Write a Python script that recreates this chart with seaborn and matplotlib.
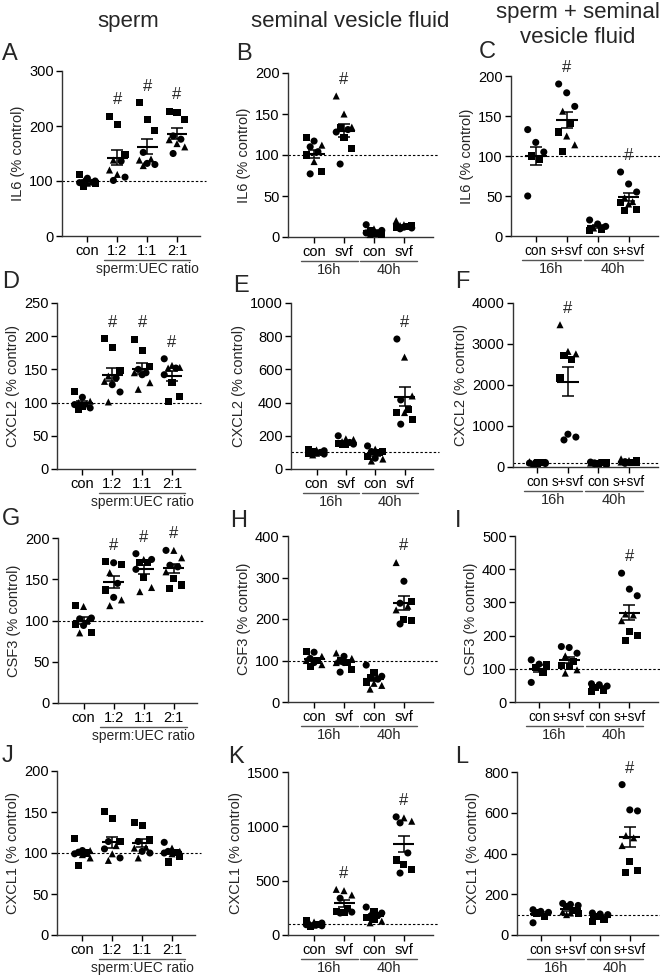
import numpy as np
import pandas as pd
import matplotlib
matplotlib.use('Agg')
import matplotlib.pyplot as plt
import seaborn as sns
from matplotlib.transforms import blended_transform_factory as btf

sns.set_style('ticks')
plt.rcParams['font.family'] = ['Liberation Sans', 'DejaVu Sans']

# ---------------- data ----------------
cats_ratio = ['con', '1:2', '1:1', '2:1']
cats_svf = ['con', 'svf', 'con', 'svf']
cats_ssvf = ['con', 's+svf', 'con', 's+svf']
ratio_label = 'sperm:UEC ratio'
time_labels = ['16h', '40h']
col_titles = ['sperm', 'seminal vesicle fluid', 'sperm + seminal', 'vesicle fluid']

# Panel A: IL6, sperm
A_sq = [[112, 95, 90], [218, 203, 148], [242, 211, 191], [225, 227, 212]]
A_ci = [[105, 100, 97], [136, 107, 101], [152, 132, 130], [182, 176, 150]]
A_tr = [[100, 98, 96], [138, 120, 112], [140, 138, 128], [175, 168, 162]]
# Panel B: IL6, svf
B_sq = [[121, 100, 80], [133, 121, 108], [4, 8, 3], [12, 13, 14]]
B_ci = [[117, 110, 104, 77], [131, 128, 89], [15, 8, 5], [10, 11, 12]]
B_tr = [[112, 92], [172, 150, 134], [3, 5, 10], [20, 15, 14]]
# Panel C: IL6, sperm + svf
C_sq = [[100, 96], [141, 130, 106], [8, 7], [42, 33, 32]]
C_ci = [[133, 117, 105, 50], [190, 179, 162], [20, 15, 12], [80, 65, 55]]
C_tr = [[], [156, 125, 114], [10], [48, 43, 40]]
# Panel D: CXCL2, sperm
D_sq = [[117, 94, 90], [196, 183, 148], [195, 179, 155], [130, 109, 101]]
D_ci = [[108, 97, 92], [137, 127, 116], [150, 145, 142], [166, 152, 142]]
D_tr = [[102, 100, 98], [140, 132, 101], [145, 130, 120], [156, 153, 152]]
# Panel E: CXCL2, svf
E_sq = [[120, 105, 95], [155, 150, 148], [105, 100, 75], [356, 342, 300]]
E_ci = [[110, 100, 90], [200, 160, 150], [139, 105, 65], [783, 416, 270]]
E_tr = [[115, 95, 85], [182, 178, 165], [120, 60, 48], [674, 440, 340]]
# Panel F: CXCL2, sperm + svf
F_sq = [[120, 100, 90], [2720, 2620, 2170], [110, 100, 90], [150, 120, 100]]
F_ci = [[110, 95, 85], [800, 730, 660], [120, 100, 80], [130, 110, 90]]
F_tr = [[130, 100, 80], [3470, 2820, 2760], [115, 95, 85], [200, 160, 120]]
# Panel G: CSF3, sperm
G_sq = [[118, 95, 86], [171, 168, 137], [170, 170, 152], [151, 143, 139]]
G_ci = [[103, 102, 94], [170, 145, 128], [181, 174, 162], [185, 167, 165]]
G_tr = [[117, 100, 85], [158, 125, 118], [174, 140, 135], [185, 176, 159]]
# Panel H: CSF3, svf
H_sq = [[122, 100, 85], [100, 95, 78], [72, 58, 48], [243, 199, 196]]
H_ci = [[120, 105, 95], [110, 95, 72], [89, 62, 55], [291, 238, 188]]
H_tr = [[110, 100, 90], [118, 105, 95], [45, 40, 31], [336, 231, 222]]
# Panel I: CSF3, sperm + svf
I_sq = [[112, 104, 89], [122, 110, 107], [45, 36, 31], [212, 200, 184]]
I_ci = [[127, 114, 59], [167, 164, 147], [55, 52, 48], [388, 340, 320]]
I_tr = [[], [139, 97, 87], [], [265, 262, 245]]
# Panel J: CXCL1, sperm
J_sq = [[118, 100, 85], [151, 142, 114], [137, 133, 116], [101, 96, 89]]
J_ci = [[103, 101, 99], [114, 105, 94], [114, 102, 100], [113, 102, 100]]
J_tr = [[103, 98, 94], [109, 99, 91], [107, 106, 94], [106, 102, 99]]
# Panel K: CXCL1, svf
K_sq = [[130, 100, 80], [247, 217, 211], [217, 163, 142], [690, 649, 604]]
K_ci = [[110, 95, 85], [338, 211, 202], [257, 202, 180], [1087, 1032, 755, 570]]
K_tr = [[120, 100, 90], [420, 408, 368], [187, 127, 112], [1078, 1047]]
# Panel L: CXCL1, sperm + svf
L_sq = [[108, 92], [141, 120, 105], [90, 76, 66], [359, 315, 305]]
L_ci = [[124, 116, 111, 60], [155, 150, 145], [108, 103, 100], [738, 614, 609]]
L_tr = [[], [113, 108, 100], [], [488, 477, 439]]

ylabels = ['IL6 (% control)', 'CXCL2 (% control)', 'CSF3 (% control)', 'CXCL1 (% control)']
yticks_all = {
    'A': [0, 100, 200, 300], 'B': [0, 50, 100, 150, 200], 'C': [0, 50, 100, 150, 200],
    'D': [0, 50, 100, 150, 200, 250], 'E': [0, 200, 400, 600, 800, 1000],
    'F': [0, 1000, 2000, 3000, 4000], 'G': [0, 50, 100, 150, 200],
    'H': [0, 100, 200, 300, 400], 'I': [0, 100, 200, 300, 400, 500],
    'J': [0, 50, 100, 150, 200], 'K': [0, 500, 1000, 1500], 'L': [0, 200, 400, 600, 800],
}
hash_groups = {'A': [1, 2, 3], 'B': [1], 'C': [1, 3], 'D': [1, 2, 3], 'E': [3], 'F': [1],
               'G': [1, 2, 3], 'H': [3], 'I': [3], 'J': [], 'K': [1, 3], 'L': [3]}

panels = {
    'A': (A_sq, A_ci, A_tr), 'B': (B_sq, B_ci, B_tr), 'C': (C_sq, C_ci, C_tr),
    'D': (D_sq, D_ci, D_tr), 'E': (E_sq, E_ci, E_tr), 'F': (F_sq, F_ci, F_tr),
    'G': (G_sq, G_ci, G_tr), 'H': (H_sq, H_ci, H_tr), 'I': (I_sq, I_ci, I_tr),
    'J': (J_sq, J_ci, J_tr), 'K': (K_sq, K_ci, K_tr), 'L': (L_sq, L_ci, L_tr),
}

# ---------------- layout (pixels) ----------------
W, H = 660, 976
boxes = {
    'A': (62, 200, 71, 236), 'B': (288, 433, 73, 237), 'C': (511, 658, 76, 236),
    'D': (57, 195, 303, 469), 'E': (291, 433, 303, 469), 'F': (513, 658, 303, 467),
    'G': (58, 197, 538, 703), 'H': (288, 433, 536, 702), 'I': (515, 658, 536, 702),
    'J': (57, 195, 771, 935), 'K': (288, 433, 772, 935), 'L': (517, 658, 772, 935),
}
letters_pos = {
    'A': (2, 60), 'B': (236, 60), 'C': (479, 58),
    'D': (2, 288), 'E': (233, 292), 'F': (455, 288),
    'G': (2, 525), 'H': (230, 527), 'I': (455, 527),
    'J': (2, 762), 'K': (228, 763), 'L': (455, 763),
}
xlims = [(-0.85, 3.77), (-0.87, 3.97), (-0.8, 3.95)]
xtick_sizes = [10.5, 10.5, 9.8]


def build(sq, ci, tr):
    rows = []
    for shape, lists in (('sq', sq), ('ci', ci), ('tr', tr)):
        for g, vals in enumerate(lists):
            for v in vals:
                rows.append((g, v, shape))
    df = pd.DataFrame(rows, columns=['group', 'value', 'shape'])
    offs = [-0.26, 0.0, 0.26, -0.13, 0.13]
    df['x'] = df['group'].astype(float)
    for g, sub in df.groupby('group'):
        order = sub.sort_values('value', ascending=False).index
        for k, idx in enumerate(order):
            df.loc[idx, 'x'] = g + offs[k % len(offs)]
    return df


fig = plt.figure(figsize=(W / 100, H / 100), dpi=100)

names = list('ABCDEFGHIJKL')
for i, name in enumerate(names):
    row, col = divmod(i, 3)
    l, r, t, b = boxes[name]
    ax = fig.add_axes([l / W, 1 - b / H, (r - l) / W, (b - t) / H])
    df = build(*panels[name])
    yt = yticks_all[name]
    ymax = yt[-1]
    cats = [cats_ratio, cats_svf, cats_ssvf][col]

    ax.axhline(100, xmin=0, xmax=1.04, ls=(0, (2.2, 1.8)), lw=0.8, color='black',
               clip_on=False, zorder=1)
    sns.scatterplot(data=df, x='x', y='value', style='shape',
                    markers={'sq': 's', 'ci': 'o', 'tr': '^'},
                    color='black', s=26, linewidth=0, legend=False, ax=ax,
                    clip_on=False, zorder=3)
    stats = df.groupby('group')['value'].agg(['mean', 'sem', 'max'])
    gx = stats.index.values.astype(float)
    ax.hlines(stats['mean'], gx - 0.35, gx + 0.35, color='black', lw=1.5, zorder=4)
    ax.errorbar(gx, stats['mean'], yerr=stats['sem'], fmt='none', ecolor='black',
                elinewidth=1.1, capsize=4.5, capthick=1.1, zorder=4)
    for g in hash_groups[name]:
        ax.text(g, stats.loc[g, 'max'] + 0.1 * ymax, '#', ha='center', va='center',
                fontsize=12)

    ax.set_xlim(*xlims[col])
    ax.set_ylim(0, ymax)
    ax.set_yticks(yt)
    ax.set_xticks(range(4))
    ax.set_xticklabels(cats)
    ax.set_xlabel('')
    ax.set_ylabel(ylabels[row], fontsize=10.5, labelpad=3)
    ax.tick_params(labelsize=10.5, length=4, width=1, pad=2, colors='black')
    ax.tick_params(axis='x', labelsize=xtick_sizes[col])
    sns.despine(ax=ax)
    for s in ('left', 'bottom'):
        ax.spines[s].set_linewidth(1)
        ax.spines[s].set_color('#333333')

    hpx = b - t
    tf = btf(ax.transData, ax.transAxes)
    yl = -24 / hpx
    ytxt = -33 / hpx
    if col == 0:
        ax.plot([0.55, 3.45], [yl, yl], transform=tf, color='#555555', lw=1, clip_on=False)
        ax.text(2, ytxt, ratio_label, transform=tf, ha='center', va='center', fontsize=10)
    else:
        for k, lab in enumerate(time_labels):
            c0 = 2 * k
            ax.plot([c0 - 0.45, c0 + 1.45], [yl, yl], transform=tf, color='#555555',
                    lw=1, clip_on=False)
            ax.text(c0 + 0.5, ytxt, lab, transform=tf, ha='center', va='center',
                    fontsize=10.5)

    lx, ly = letters_pos[name]
    fig.text(lx / W, 1 - ly / H, name, fontsize=17, va='baseline', ha='left')

fig.text(128 / W, 1 - 27 / H, col_titles[0], ha='center', va='baseline', fontsize=16)
fig.text(350 / W, 1 - 27 / H, col_titles[1], ha='center', va='baseline', fontsize=16)
fig.text(578 / W, 1 - 18 / H, col_titles[2], ha='center', va='baseline', fontsize=16)
fig.text(578 / W, 1 - 43 / H, col_titles[3], ha='center', va='baseline', fontsize=16)

fig.savefig('out.png', dpi=100, facecolor='white')
